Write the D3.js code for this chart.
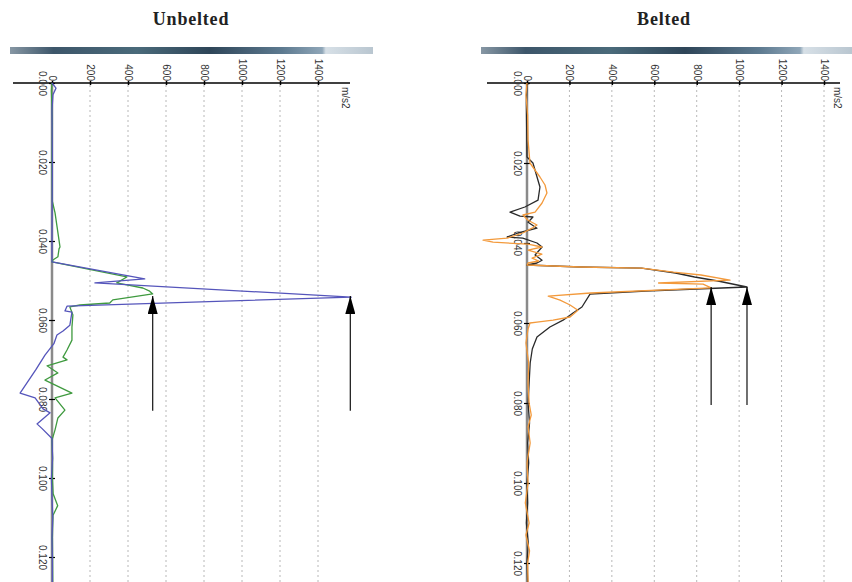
<!DOCTYPE html>
<html>
<head>
<meta charset="utf-8">
<script src="https://cdn.jsdelivr.net/npm/d3@7"></script>
<style>
  body { margin: 0; background: #fff; }
  svg { display: block; }
</style>
</head>
<body>
<div id="chart"></div>
<script>
// Tick values
var accTicks = [0, 200, 400, 600, 800, 1000, 1200, 1400];
var timeTicks = [0, 0.02, 0.04, 0.06, 0.08, 0.10, 0.12];

// Unbelted: time (s) and acceleration (m/s2)
var unbeltedGreenT = [0, 0.002, 0.010, 0.020, 0.030, 0.0329, 0.0415, 0.0420, 0.0440, 0.0448, 0.0453,
  0.0491, 0.0506, 0.0511, 0.0519, 0.0527, 0.0534, 0.0549, 0.0557, 0.0562, 0.0567, 0.0587, 0.0618,
  0.0651, 0.0676, 0.0694, 0.0701, 0.0716, 0.0734, 0.0752, 0.0785, 0.0797, 0.0828, 0.0848, 0.0878,
  0.0904, 0.0950, 0.1000, 0.1040, 0.1070, 0.1095, 0.1150, 0.1200, 0.1263];
var unbeltedGreenV = [0, -3, 2, 0, 2, 16, 42, 37, 31, 5, 0,
  394, 341, 394, 478, 514, 530, 320, 304, 147, 94, 110, 105,
  105, 79, 58, 79, -26, 31, -37, 105, 16, 68, 31, 16,
  0, 3, 2, 6, 30, 5, 2, 3, 4];

var unbeltedBlueT = [0, 0.0013, 0.0030, 0.0068, 0.0200, 0.0400, 0.0453, 0.0496, 0.0506, 0.0542,
  0.0565, 0.0577, 0.0580, 0.0613, 0.0628, 0.0638, 0.0660, 0.0689, 0.0725, 0.0785, 0.0797, 0.0825,
  0.0835, 0.0863, 0.0875, 0.0900, 0.0950, 0.1000, 0.1050, 0.1100, 0.1150, 0.1200, 0.1263];
var unbeltedBlueV = [0, 21, 5, 0, 2, 0, 0, 488, 226, 1575,
  79, 68, 105, 94, 58, 26, 10, -37, -84, -168, -89, -47,
  -10, -79, -52, 0, 3, -3, 0, 4, 0, 2, 2];

// Belted: time (s) and acceleration (m/s2)
var beltedBlackT = [0, 0.005, 0.0185, 0.020, 0.026, 0.0293, 0.0310, 0.0323, 0.0333, 0.0335, 0.0348,
  0.0363, 0.0375, 0.0385, 0.0388, 0.0400, 0.0410, 0.0430, 0.0443, 0.0450, 0.0455, 0.0460, 0.0463,
  0.0475, 0.0485, 0.0495, 0.0510, 0.0520, 0.0528, 0.0560, 0.0575, 0.0593, 0.0610, 0.0635, 0.0665,
  0.070, 0.075, 0.080, 0.085, 0.090, 0.095, 0.100, 0.105, 0.110, 0.115, 0.120, 0.1248];
var beltedBlackV = [0, -3, 0, 28, 61, 52, -10, -80, -33, 28, 5,
  47, -42, -94, -20, 47, 71, 38, 71, 47, 0, 250, 540,
  700, 790, 900, 1037, 560, 297, 259, 217, 170, 108, 47, 25,
  15, 10, 5, 12, 3, 8, 0, 3, -3, 6, 0, 3];

var beltedOrangeT = [0, 0.003, 0.008, 0.0143, 0.020, 0.0235, 0.0255, 0.0275, 0.030, 0.0323, 0.0330,
  0.0343, 0.0355, 0.0363, 0.0375, 0.0388, 0.0393, 0.0398, 0.0403, 0.0410, 0.0418, 0.0428, 0.0438,
  0.0445, 0.0450, 0.0455, 0.0460, 0.0463, 0.0473, 0.0480, 0.0493, 0.0500, 0.0503, 0.0512, 0.0525,
  0.0533, 0.0543, 0.0555, 0.0568, 0.0585, 0.0593, 0.0598, 0.0600, 0.0615, 0.065, 0.070, 0.075,
  0.080, 0.083, 0.086, 0.090, 0.095, 0.100, 0.105, 0.110, 0.113, 0.117, 0.120, 0.1248];
var beltedOrangeV = [0, -5, 3, 5, 14, 61, 85, 94, 71, 38, -19,
  5, 47, 24, -20, -94, -207, -160, 5, 70, 5, 70, 24,
  55, 5, 0, 250, 540, 690, 820, 957, 620, 830, 868, 300,
  100, 156, 203, 240, 203, 123, 47, 14, 5, -5, 8, 5,
  10, 20, 5, 15, 0, 5, -8, 10, -5, 12, 3, 5];

// Arrows: [acceleration, tip time, tail time]
var unbeltedArrows = [[530, 0.0539, 0.0830], [1570, 0.0539, 0.0830]];
var beltedArrows = [[868, 0.0510, 0.0805], [1037, 0.0510, 0.0805]];

var width = 852, height = 582;

var svg = d3.select("#chart")
  .append("svg")
  .attr("width", width)
  .attr("height", height);

// Gradient used for the bar above each plot
var defs = svg.append("defs");
var grad = defs.append("linearGradient").attr("id", "barGrad");
grad.append("stop").attr("offset", "0%").attr("stop-color", "#8797a4");
grad.append("stop").attr("offset", "12%").attr("stop-color", "#3d566a");
grad.append("stop").attr("offset", "35%").attr("stop-color", "#4a6a7a");
grad.append("stop").attr("offset", "55%").attr("stop-color", "#2e4558");
grad.append("stop").attr("offset", "75%").attr("stop-color", "#5d7a90");
grad.append("stop").attr("offset", "86%").attr("stop-color", "#8fa6b8");
grad.append("stop").attr("offset", "87%").attr("stop-color", "#d7e0e7");
grad.append("stop").attr("offset", "100%").attr("stop-color", "#b9c6d0");

defs.append("marker")
  .attr("id", "head")
  .attr("viewBox", "0 0 10 18")
  .attr("refX", 5).attr("refY", 0)
  .attr("markerWidth", 10).attr("markerHeight", 18)
  .attr("markerUnits", "userSpaceOnUse")
  .attr("orient", "0")
  .append("path")
  .attr("d", "M5,0 L10,18 L0,18 Z")
  .attr("fill", "#000");

var labelFont = "'Liberation Sans', Arial, sans-serif";

function drawPanel(p) {
  var g = svg.append("g");

  var x = d3.scaleLinear().domain([0, 1400]).range(p.xRange);
  var y = d3.scaleLinear().domain([0, 0.12]).range(p.yRange);

  // Title
  g.append("text")
    .attr("x", p.titleX).attr("y", 25)
    .attr("text-anchor", "middle")
    .style("font-family", "'Liberation Serif', 'DejaVu Serif', serif")
    .style("font-weight", "bold")
    .style("font-size", "18px")
    .style("letter-spacing", "0.8px")
    .attr("fill", "#222")
    .text(p.title);

  // Gradient bar
  g.append("rect")
    .attr("x", p.barX[0]).attr("y", 47)
    .attr("width", p.barX[1] - p.barX[0]).attr("height", 7)
    .attr("fill", "url(#barGrad)");

  // Dotted gridlines
  g.selectAll(".grid")
    .data(accTicks.slice(1))
    .enter().append("line")
    .attr("x1", function(d) { return x(d); })
    .attr("x2", function(d) { return x(d); })
    .attr("y1", y(0) + 2).attr("y2", height)
    .attr("stroke", "#b8b8b8")
    .attr("stroke-width", 1)
    .attr("stroke-dasharray", "2,3");

  // Vertical (time) axis line, grey and thick
  g.append("line")
    .attr("x1", x(0)).attr("x2", x(0))
    .attr("y1", y(0)).attr("y2", height)
    .attr("stroke", "#8a8a8a")
    .attr("stroke-width", 2.5);

  // Top (acceleration) axis
  var xAxis = g.append("g")
    .attr("transform", "translate(0," + y(0) + ")")
    .call(d3.axisTop(x).tickValues(accTicks).tickSizeInner(3).tickSizeOuter(0).tickFormat(d3.format("d")));
  xAxis.select(".domain").remove();
  xAxis.selectAll("line").attr("y2", -2).attr("y1", 2).attr("stroke-width", 1.5);
  xAxis.selectAll("text")
    .attr("transform", "translate(0,-2) rotate(90)")
    .attr("x", 0).attr("y", 0).attr("dy", "0.35em")
    .style("text-anchor", "end")
    .style("font-family", labelFont)
    .style("font-size", "10px")
    .attr("fill", "#333");
  g.append("line")
    .attr("x1", p.axisX[0]).attr("x2", p.axisX[1])
    .attr("y1", y(0)).attr("y2", y(0))
    .attr("stroke", "#000").attr("stroke-width", 1.5);

  g.append("text")
    .attr("transform", "translate(" + p.unitX + "," + (y(0) + 4) + ") rotate(90)")
    .attr("dy", "0.35em")
    .style("font-family", labelFont)
    .style("font-size", "10px")
    .attr("fill", "#333")
    .text("m/s2");

  // Left (time) axis ticks
  var yAxis = g.append("g")
    .attr("transform", "translate(" + x(0) + ",0)")
    .call(d3.axisLeft(y).tickValues(timeTicks).tickSizeInner(3).tickSizeOuter(0).tickFormat(d3.format(".3f")));
  yAxis.select(".domain").remove();
  yAxis.selectAll("line").attr("x1", 3).attr("x2", -3).attr("stroke-width", 1.2);
  yAxis.selectAll("text")
    .attr("transform", "translate(-10,0) rotate(90)")
    .attr("x", 0).attr("y", 0).attr("dy", "0.35em")
    .style("text-anchor", "middle")
    .style("font-family", labelFont)
    .style("font-size", "10px")
    .attr("fill", "#333");

  // Series
  var line = d3.line()
    .x(function(d) { return x(d[1]); })
    .y(function(d) { return y(d[0]); });

  p.series.forEach(function(s) {
    g.append("path")
      .datum(d3.zip(s.t, s.v))
      .attr("d", line)
      .attr("fill", "none")
      .attr("stroke", s.color)
      .attr("stroke-width", 1.3)
      .attr("stroke-linejoin", "round");
  });

  // Arrows pointing at the peaks
  g.selectAll(".arrow")
    .data(p.arrows)
    .enter().append("line")
    .attr("x1", function(d) { return x(d[0]); })
    .attr("x2", function(d) { return x(d[0]); })
    .attr("y1", function(d) { return y(d[2]); })
    .attr("y2", function(d) { return y(d[1]); })
    .attr("stroke", "#111")
    .attr("stroke-width", 1.2)
    .attr("marker-end", "url(#head)");
}

drawPanel({
  title: "Unbelted", titleX: 191,
  barX: [10, 373], axisX: [13, 350], unitX: 345,
  xRange: [52, 318], yRange: [83, 557],
  series: [
    { t: unbeltedGreenT, v: unbeltedGreenV, color: "#3f9a3f" },
    { t: unbeltedBlueT, v: unbeltedBlueV, color: "#5555bb" }
  ],
  arrows: unbeltedArrows
});

drawPanel({
  title: "Belted", titleX: 664,
  barX: [481, 852], axisX: [487, 840], unitX: 837,
  xRange: [527, 824], yRange: [83, 563],
  series: [
    { t: beltedBlackT, v: beltedBlackV, color: "#2a2a2a" },
    { t: beltedOrangeT, v: beltedOrangeV, color: "#f39a3c" }
  ],
  arrows: beltedArrows
});
</script>
</body>
</html>
